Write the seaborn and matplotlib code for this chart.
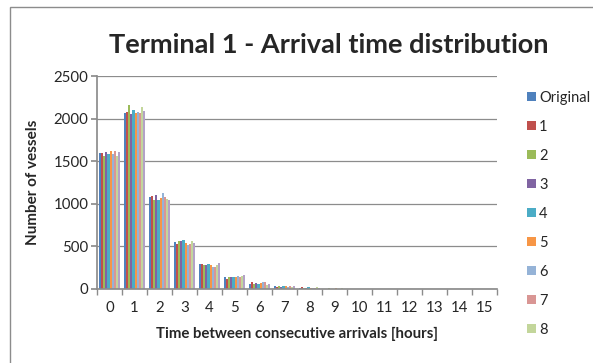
import matplotlib
matplotlib.use("Agg")
import matplotlib.pyplot as plt
import seaborn as sns
import pandas as pd
from matplotlib.patches import Rectangle, Patch

# Inter-arrival time bins (hours)
hours = list(range(16))

# Vessel counts per bin for the original record and the synthetic runs
series_names = ["Original", "1", "2", "3", "4", "5", "6", "7", "8", "9"]
original = [1600, 2065, 1082, 553, 297, 145, 62, 30, 15, 3, 1, 0, 0, 0, 0, 0]
run1 = [1600, 2082, 1089, 529, 297, 121, 82, 25, 18, 2, 1, 0, 0, 0, 0, 0]
run2 = [1560, 2159, 1042, 568, 278, 137, 62, 32, 12, 8, 0, 0, 0, 0, 0, 0]
run3 = [1610, 2050, 1101, 568, 278, 137, 70, 28, 14, 3, 1, 0, 0, 0, 0, 0]
run4 = [1590, 2105, 1042, 576, 297, 137, 62, 30, 20, 2, 0, 0, 0, 0, 0, 0]
run5 = [1620, 2070, 1070, 541, 286, 137, 70, 35, 12, 7, 1, 0, 0, 0, 0, 0]
run6 = [1590, 2082, 1129, 521, 262, 156, 82, 28, 14, 3, 0, 0, 0, 0, 0, 0]
run7 = [1620, 2065, 1082, 529, 262, 145, 80, 32, 16, 2, 1, 0, 0, 0, 0, 0]
run8 = [1560, 2140, 1062, 568, 278, 156, 51, 26, 18, 6, 0, 0, 0, 0, 0, 0]
run9 = [1610, 2088, 1042, 544, 309, 160, 55, 30, 12, 2, 0, 0, 0, 0, 0, 0]
all_series = [original, run1, run2, run3, run4, run5, run6, run7, run8, run9]

palette = ["#4F81BD", "#C0504D", "#9BBB59", "#8064A2", "#4BACC6",
           "#F79646", "#95B3D7", "#D99694", "#C3D69B", "#B3A2C7"]

rows = []
for name, vals in zip(series_names, all_series):
    for h, v in zip(hours, vals):
        rows.append({"hours": h, "vessels": v, "series": name})
df = pd.DataFrame(rows)

sns.set_theme(style="white")
plt.rcParams["font.family"] = ["Lato", "DejaVu Sans"]

fig = plt.figure(figsize=(5.93, 3.63), dpi=100)
ax = fig.add_axes([97 / 593, 1 - 289 / 363, 400 / 593, 213 / 363])

sns.barplot(data=df, x="hours", y="vessels", hue="series", hue_order=series_names,
            palette=palette, saturation=1, width=0.86, ax=ax, legend=False,
            errorbar=None, linewidth=0)

ax.set_ylim(0, 2500)
ax.set_xlim(-0.5, 15.5)
ax.set_yticks(range(0, 2501, 500))
ax.yaxis.grid(True, color="#8C8C8C", linewidth=0.9)
ax.set_axisbelow(True)
for s in ["top", "right"]:
    ax.spines[s].set_visible(False)
ax.spines["left"].set_color("#8C8C8C")
ax.spines["bottom"].set_color("#8C8C8C")
ax.tick_params(axis="y", which="major", left=True, length=4, color="#8C8C8C",
               labelsize=10.8, pad=2)
ax.tick_params(axis="x", which="major", bottom=False, labelsize=10.8, pad=3)
ax.set_xticks(hours)
ax.set_xticklabels([str(h) for h in hours])
ax.set_xticks([h - 0.5 for h in hours] + [15.5], minor=True)
ax.tick_params(axis="x", which="minor", bottom=True, length=4, color="#8C8C8C")

ax.set_xlabel("Time between consecutive arrivals [hours]", fontsize=10.8,
              fontweight="bold", labelpad=8)
ax.set_ylabel("Number of vessels", fontsize=11, fontweight="bold", labelpad=10)

fig.text(0.555, 1 - 45 / 363, "Terminal 1 - Arrival time distribution",
         ha="center", va="center", fontsize=19.5, fontweight="bold")

handles = [Patch(facecolor=c, edgecolor="none") for c in palette[:9]]
fig.legend(handles, series_names[:9], loc="upper left",
           bbox_to_anchor=(521 / 593, 1 - 85 / 363), frameon=False,
           fontsize=10.5, handlelength=0.6, handleheight=0.6, handletextpad=0.25,
           labelspacing=1.03, borderaxespad=0)

fig.patches.append(Rectangle((10 / 593, -0.05), 1.1, 1 - 7 / 363 + 0.05,
                             transform=fig.transFigure, fill=False,
                             edgecolor="#8C8C8C", linewidth=1.0))

fig.savefig("out.png", dpi=100)
